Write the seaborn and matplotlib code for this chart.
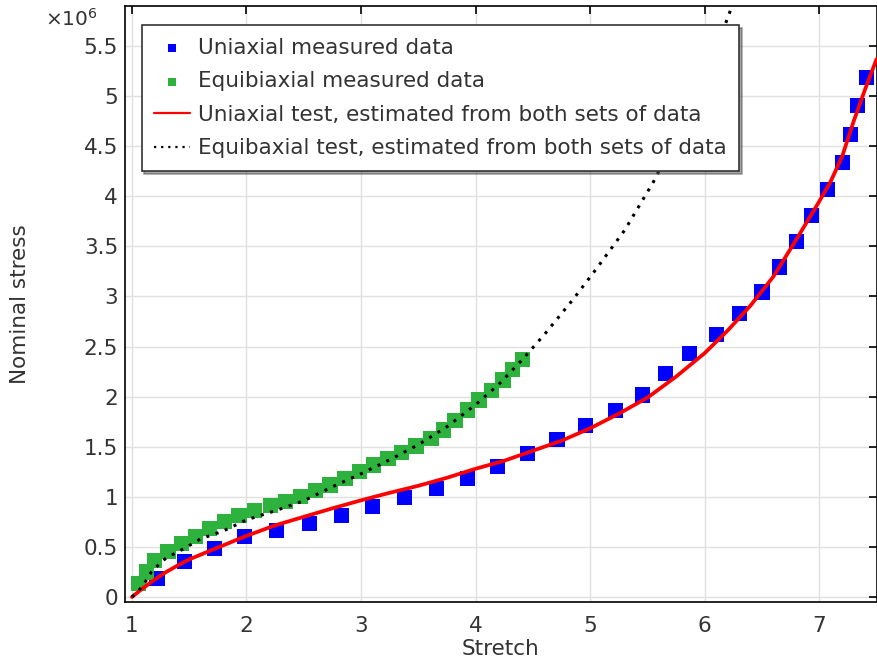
import matplotlib
matplotlib.use("Agg")
import matplotlib.pyplot as plt
import seaborn as sns
from matplotlib.ticker import FuncFormatter, MultipleLocator

# Measured data (stress in units of 1e6)
uni_stretch = [1.22, 1.46, 1.72, 1.98, 2.26, 2.55, 2.83, 3.10, 3.38, 3.66,
               3.93, 4.19, 4.455, 4.71, 4.96, 5.22, 5.46, 5.66, 5.87, 6.10,
               6.30, 6.50, 6.65, 6.80, 6.935, 7.07, 7.20, 7.27, 7.335, 7.41]
uni_stress = [0.184, 0.355, 0.484, 0.607, 0.667, 0.734, 0.817, 0.90, 0.99, 1.084,
              1.184, 1.30, 1.434, 1.574, 1.71, 1.86, 2.017, 2.234, 2.434, 2.617,
              2.827, 3.044, 3.294, 3.55, 3.807, 4.067, 4.334, 4.617, 4.907, 5.19]

equi_stretch = [1.055, 1.128, 1.2, 1.316, 1.43, 1.558, 1.68, 1.81, 1.935, 2.07,
                2.21, 2.34, 2.47, 2.60, 2.73, 2.86, 2.99, 3.11, 3.235, 3.35,
                3.48, 3.61, 3.72, 3.82, 3.93, 4.03, 4.14, 4.24, 4.32, 4.41]
equi_stress = [0.134, 0.25, 0.367, 0.457, 0.534, 0.607, 0.684, 0.75, 0.817, 0.86,
               0.917, 0.95, 1.0, 1.06, 1.117, 1.184, 1.25, 1.317, 1.384, 1.44,
               1.507, 1.584, 1.667, 1.76, 1.867, 1.967, 2.06, 2.167, 2.274, 2.374]

# Fitted curves
fit_uni_stretch = [1.0, 1.1, 1.2, 1.3, 1.4, 1.5, 1.7, 2.0, 2.25, 2.5, 2.75, 3.0,
                   3.25, 3.5, 3.75, 4.0, 4.25, 4.5, 4.75, 5.0, 5.25, 5.5, 5.75,
                   6.0, 6.2, 6.4, 6.6, 6.8, 7.0, 7.1, 7.2, 7.3, 7.4, 7.5]
fit_uni_stress = [0.0, 0.09, 0.175, 0.25, 0.315, 0.375, 0.47, 0.61, 0.715, 0.80,
                  0.885, 0.965, 1.04, 1.11, 1.19, 1.28, 1.36, 1.46, 1.56, 1.684,
                  1.83, 1.99, 2.2, 2.435, 2.66, 2.91, 3.2, 3.57, 3.95, 4.15, 4.4,
                  4.75, 5.07, 5.37]

fit_equi_stretch = [1.0, 1.05, 1.1, 1.17, 1.25, 1.3, 1.45, 1.6, 1.8, 2.0, 2.25,
                    2.5, 2.75, 3.0, 3.25, 3.5, 3.75, 4.0, 4.2, 4.4, 4.6, 4.85,
                    5.05, 5.3, 5.55, 5.8, 6.0, 6.2, 6.3]
fit_equi_stress = [0.0, 0.05, 0.12, 0.25, 0.34, 0.39, 0.48, 0.58, 0.66, 0.77, 0.86,
                   0.96, 1.10, 1.23, 1.37, 1.52, 1.70, 1.92, 2.12, 2.36, 2.62, 2.97,
                   3.27, 3.66, 4.14, 4.70, 5.20, 5.78, 6.1]

TEXT = "#333333"
FS = 15.5


def main():
    sns.set_theme(style="whitegrid")
    plt.rcParams["font.family"] = ["DejaVu Sans"]
    plt.rcParams["xtick.direction"] = "in"
    plt.rcParams["ytick.direction"] = "in"

    fig = plt.figure(figsize=(8.78, 6.61), dpi=100)
    ax = fig.add_axes([0.1424, 0.0893, 0.856, 0.9016])

    sns.scatterplot(x=uni_stretch, y=uni_stress, marker="s", s=120, color="#0000ff",
                    edgecolor="none", label="Uniaxial measured data", ax=ax, zorder=3)
    sns.scatterplot(x=equi_stretch, y=equi_stress, marker="s", s=120, color="#2db33d",
                    edgecolor="none", label="Equibiaxial measured data", ax=ax, zorder=3)
    sns.lineplot(x=fit_uni_stretch, y=fit_uni_stress, color="#ff0000", lw=2.7,
                 label="Uniaxial test, estimated from both sets of data", ax=ax,
                 sort=False, zorder=4)
    sns.lineplot(x=fit_equi_stretch, y=fit_equi_stress, color="black", lw=2.2,
                 linestyle=(0, (1, 2.2)),
                 label="Equibaxial test, estimated from both sets of data", ax=ax,
                 sort=False, zorder=4)

    ax.set_xlim(0.94, 7.5)
    ax.set_ylim(-0.05, 5.9)
    ax.xaxis.set_major_locator(MultipleLocator(1))
    ax.yaxis.set_major_locator(MultipleLocator(0.5))
    ax.yaxis.set_major_formatter(FuncFormatter(lambda v, p: f"{v:g}"))
    ax.tick_params(axis="both", which="major", labelsize=FS, colors=TEXT,
                   length=6, width=1.2, top=True, right=True)
    ax.tick_params(axis="x", pad=10)
    ax.tick_params(axis="y", pad=5)
    ax.tick_params(axis="both", color="black")
    for sp in ax.spines.values():
        sp.set_color("black")
        sp.set_linewidth(1.2)
    ax.grid(True, color="#e0e0e0", lw=1)
    ax.set_facecolor("white")

    ax.set_xlabel("Stretch", fontsize=FS, color=TEXT)
    ax.set_ylabel("Nominal stress", fontsize=FS, color=TEXT)
    ax.xaxis.set_label_coords(0.5, -0.062)
    ax.yaxis.set_label_coords(-0.126, 0.5)
    fig.text(0.051, 0.972, "×10$^{6}$", fontsize=14.5, color=TEXT, va="center")

    # legend: small squares for the measured data, thin lines for the fits
    leg = ax.legend(loc="upper left", bbox_to_anchor=(0.022, 0.968), fontsize=FS,
                    frameon=True, fancybox=False, shadow=True, handlelength=1.65,
                    borderpad=0.6, labelspacing=0.62, handletextpad=0.35,
                    borderaxespad=0.0)
    leg.get_frame().set_edgecolor("#333333")
    leg.get_frame().set_linewidth(1.2)
    for t in leg.get_texts():
        t.set_color(TEXT)
    for h in leg.legend_handles[:2]:
        h.set_sizes([33])
    leg.legend_handles[2].set_linewidth(1.6)
    leg.legend_handles[3].set_linewidth(1.6)

    fig.savefig("out.png", dpi=100)
    plt.close(fig)


if __name__ == "__main__":
    main()
